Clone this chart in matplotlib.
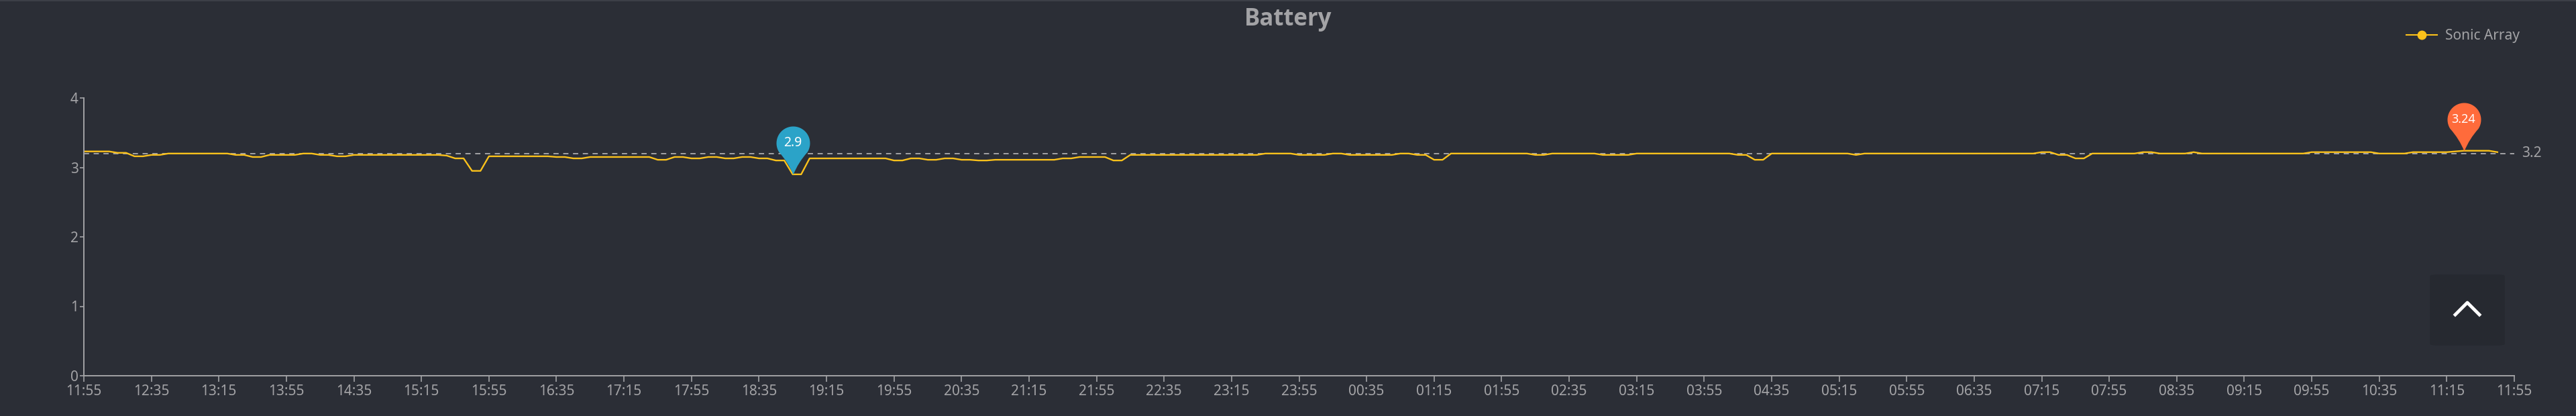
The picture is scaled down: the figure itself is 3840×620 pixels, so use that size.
import matplotlib.pyplot as plt
import pandas as pd
import numpy as np
from matplotlib.path import Path
from matplotlib.patches import FancyBboxPatch
from matplotlib.lines import Line2D

plt.rcParams['font.family'] = ['Noto Sans', 'DejaVu Sans']

# battery voltage, one sample every 5 min starting 11:55
start = pd.Timestamp("2024-01-01 11:55")
battery = [
    3.23, 3.23, 3.23, 3.23, 3.21, 3.21, 3.16, 3.16, 3.18, 3.18, 3.20, 3.20,
    3.20, 3.20, 3.20, 3.20, 3.20, 3.20, 3.18, 3.18, 3.15, 3.15, 3.18, 3.18,
    3.18, 3.18, 3.20, 3.20, 3.18, 3.18, 3.16, 3.16, 3.18, 3.18, 3.18, 3.18,
    3.18, 3.18, 3.18, 3.18, 3.18, 3.18, 3.18, 3.17, 3.13, 3.13, 2.95, 2.95,
    3.16, 3.16, 3.16, 3.16, 3.16, 3.16, 3.16, 3.16, 3.15, 3.15, 3.13, 3.13,
    3.15, 3.15, 3.15, 3.15, 3.15, 3.15, 3.15, 3.15, 3.11, 3.11, 3.15, 3.15,
    3.13, 3.13, 3.15, 3.15, 3.13, 3.13, 3.15, 3.15, 3.13, 3.13, 3.10, 3.10,
    2.90, 2.90, 3.13, 3.13, 3.13, 3.13, 3.13, 3.13, 3.13, 3.13, 3.13, 3.13,
    3.10, 3.10, 3.13, 3.13, 3.11, 3.11, 3.13, 3.13, 3.11, 3.11, 3.10, 3.10,
    3.11, 3.11, 3.11, 3.11, 3.11, 3.11, 3.11, 3.11, 3.13, 3.13, 3.15, 3.15,
    3.15, 3.15, 3.10, 3.10, 3.18, 3.18, 3.18, 3.18, 3.18, 3.18, 3.18, 3.18,
    3.18, 3.18, 3.18, 3.18, 3.18, 3.18, 3.18, 3.18, 3.20, 3.20, 3.20, 3.20,
    3.18, 3.18, 3.18, 3.18, 3.20, 3.20, 3.18, 3.18, 3.18, 3.18, 3.18, 3.18,
    3.20, 3.20, 3.18, 3.18, 3.11, 3.11, 3.20, 3.20, 3.20, 3.20, 3.20, 3.20,
    3.20, 3.20, 3.20, 3.20, 3.18, 3.18, 3.20, 3.20, 3.20, 3.20, 3.20, 3.20,
    3.18, 3.18, 3.18, 3.18, 3.20, 3.20, 3.20, 3.20, 3.20, 3.20, 3.20, 3.20,
    3.20, 3.20, 3.20, 3.20, 3.18, 3.18, 3.11, 3.11, 3.20, 3.20, 3.20, 3.20,
    3.20, 3.20, 3.20, 3.20, 3.20, 3.20, 3.18, 3.20, 3.20, 3.20, 3.20, 3.20,
    3.20, 3.20, 3.20, 3.20, 3.20, 3.20, 3.20, 3.20, 3.20, 3.20, 3.20, 3.20,
    3.20, 3.20, 3.20, 3.20, 3.22, 3.22, 3.18, 3.18, 3.13, 3.13, 3.20, 3.20,
    3.20, 3.20, 3.20, 3.20, 3.22, 3.22, 3.20, 3.20, 3.20, 3.20, 3.22, 3.20,
    3.20, 3.20, 3.20, 3.20, 3.20, 3.20, 3.20, 3.20, 3.20, 3.20, 3.20, 3.20,
    3.22, 3.22, 3.22, 3.22, 3.22, 3.22, 3.22, 3.22, 3.20, 3.20, 3.20, 3.20,
    3.22, 3.22, 3.22, 3.22, 3.22, 3.23, 3.24, 3.24, 3.24, 3.24, 3.22,
]
times = pd.date_range(start, periods=len(battery), freq="5min")
avg_value = 3.2
series_name = "Sonic Array"
title = "Battery"

bg = '#2b2e36'
grey = '#a3a3a6'
yellow = '#fcc21b'

# minutes since start, axis runs over a full day
x = np.array([(t - start).total_seconds() / 60 for t in times])
y = np.array(battery)
tick_min = np.arange(0, 1441, 40)
tick_lbl = [(start + pd.Timedelta(minutes=int(m))).strftime('%H:%M') for m in tick_min]

fig = plt.figure(figsize=(38.4, 6.2), dpi=100)
fig.patch.set_facecolor(bg)
ax = fig.add_axes([125/3840, 1-560/620, (3748-125)/3840, (560-146)/620])
ax.set_facecolor(bg)
ax.set_xlim(0, 1440)
ax.set_ylim(0, 4)
for s in ['top', 'right']:
    ax.spines[s].set_visible(False)
for s in ['left', 'bottom']:
    ax.spines[s].set_color(grey)
    ax.spines[s].set_linewidth(1.4)
ax.set_yticks([0, 1, 2, 3, 4])
ax.set_xticks(tick_min)
ax.set_xticklabels(tick_lbl)
ax.tick_params(axis='y', colors=grey, labelsize=15, length=4, width=1.2, pad=2)
ax.tick_params(axis='x', colors=grey, labelsize=15, length=6.5, width=1.2, pad=3)

ax.plot(x, y, color=yellow, lw=1.7, label=series_name, solid_joinstyle='round')

# average line
ax.axhline(avg_value, color=grey, lw=1.4, ls=(0, (4, 3.5)), zorder=1)
ax.text(1.003, avg_value, f'{avg_value:g}', transform=ax.get_yaxis_transform(),
        color=grey, fontsize=15, va='center', ha='left')

# pin markers for min / max
h, r = 47, 25
th = np.arccos(r / h)
tx, ty = r * np.sin(th), h - r * np.cos(th)
ang = np.linspace(-np.pi/2 + th, 3*np.pi/2 - th, 40)
verts = [(0, 0), (tx*0.35, ty*0.55), (tx, ty)]
codes = [Path.MOVETO, Path.CURVE3, Path.CURVE3]
for a in ang:
    verts.append((r*np.cos(a), h + r*np.sin(a)))
    codes.append(Path.LINETO)
verts += [(-tx*0.35, ty*0.55), (0, 0), (0, 0)]
codes += [Path.CURVE3, Path.CURVE3, Path.CLOSEPOLY]
pin = Path(verts, codes)
ms = 2 * (h + r) * 0.72

imin = int(np.argmin(y))
imax = int(np.argmax(y))
for i, col, fs in [(imin, '#2ba3c8', 14), (imax, '#ff6b3b', 13)]:
    ax.plot(x[i], y[i], marker=pin, markersize=ms, color=col, mew=0,
            zorder=5, clip_on=False)
    ax.annotate(f'{y[i]:g}', (x[i], y[i]), xytext=(0, h*0.72),
                textcoords='offset points', ha='center', va='center',
                color='white', fontsize=fs, zorder=6)

fig.text(0.5, 1-29/620, title, ha='center', va='center', color=grey,
         fontsize=25, fontweight='bold', family=['Open Sans', 'DejaVu Sans'])

leg = ax.legend(handles=[Line2D([], [], color=yellow, lw=1.5, marker='o',
                                markersize=9)],
                labels=[series_name], loc='center right',
                bbox_to_anchor=(3775/3840, 1-54/620),
                bbox_transform=fig.transFigure, frameon=False, fontsize=15,
                labelcolor=grey, handlelength=2.2, handletextpad=0.6)

# back-to-top button
btn = FancyBboxPatch((3622/3840, 1-515/620), 112/3840, 106/620,
                     boxstyle='round,pad=0,rounding_size=0.004',
                     transform=fig.transFigure, facecolor='#262930',
                     edgecolor='none')
fig.add_artist(btn)
cx, cy = 3678/3840, 1-460/620
fig.add_artist(Line2D([cx-18/3840, cx, cx+18/3840],
                      [cy-9/620, cy+9/620, cy-9/620],
                      transform=fig.transFigure, color='white', lw=3.5))
fig.add_artist(Line2D([0, 1], [1-1/620, 1-1/620], transform=fig.transFigure,
                      color='#3c3f47', lw=1.5))

fig.savefig('out.png', dpi=100, facecolor=bg)
